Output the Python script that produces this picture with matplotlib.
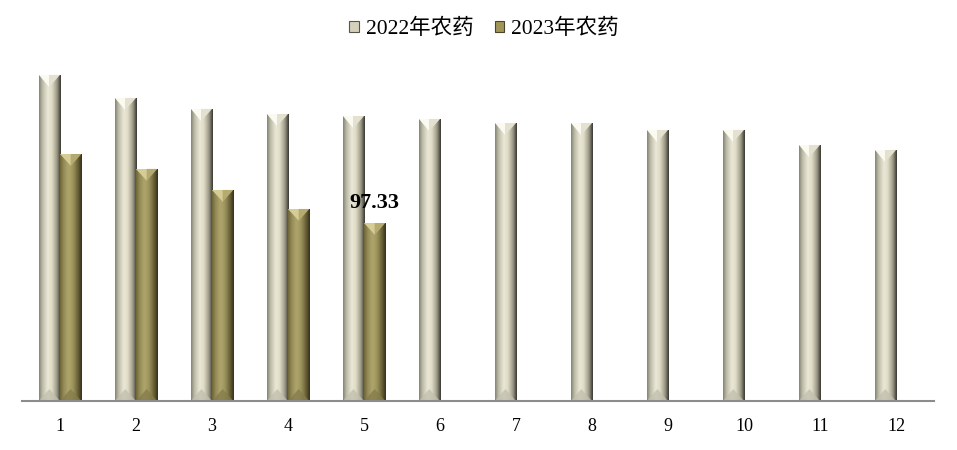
import matplotlib.pyplot as plt
import numpy as np
from matplotlib.colors import LinearSegmentedColormap
from matplotlib.patches import Polygon, Patch

plt.rcParams['font.family'] = ['Liberation Serif', 'Noto Sans CJK SC']

months = ['1', '2', '3', '4', '5', '6', '7', '8', '9', '10', '11', '12']
pest_2022 = [178.3, 165.7, 159.7, 156.9, 155.8, 154.2, 152.0, 152.0, 148.2, 148.2, 140.0, 137.2]
pest_2023 = [135.0, 126.9, 115.4, 105.0, 97.33]
series_names = ['2022年农药', '2023年农药']

# horizontal shading of the bevelled bars
grey_cmap = LinearSegmentedColormap.from_list('g', [
    (0.0, '#858372'), (0.15, '#bcbaa8'), (0.4, '#ece8d7'), (0.58, '#e0dcc7'),
    (0.82, '#9e9c88'), (1.0, '#383832')])
olive_cmap = LinearSegmentedColormap.from_list('o', [
    (0.0, '#6e6638'), (0.15, '#918855'), (0.38, '#b0a66c'), (0.58, '#9f965e'),
    (0.82, '#6a6238'), (1.0, '#34301a')])
styles = [
    dict(cmap=grey_cmap, top_l='#fbfaf1', top_r='#e4e1d1', bot='#c2c0ae', mid='#d4d0bc', edge='#55554a'),
    dict(cmap=olive_cmap, top_l='#d6cd96', top_r='#b5ab70', bot='#857c4c', mid='#a09658', edge='#4a4526'),
]

fig = plt.figure(figsize=(9.57, 4.5), dpi=100)
ax = fig.add_axes([22 / 957, 49 / 450, 912 / 957, 347.5 / 450])

x = np.arange(len(months))
w = 0.28
ax.set_xlim(-0.5, len(months) - 0.5)
ax.set_ylim(0, 190)

inv = ax.transData.inverted()
bevel = inv.transform((0, 12))[1] - inv.transform((0, 0))[1]
grad = np.linspace(0, 1, 64).reshape(1, -1)

groups = [(x - w / 2, pest_2022), (x[:len(pest_2023)] + w / 2, pest_2023)]
bar_sets = []
for (xs, vals), st in zip(groups, styles):
    bars = ax.bar(xs, vals, width=w, color='none', edgecolor='none', zorder=2)
    bar_sets.append(bars)
    for r in bars:
        x0, x1, h = r.get_x(), r.get_x() + r.get_width(), r.get_height()
        xc = (x0 + x1) / 2
        im = ax.imshow(grad, cmap=st['cmap'], extent=(x0, x1, 0, h),
                       aspect='auto', zorder=2, interpolation='bicubic')
        im.set_clip_path(r)
        ax.add_patch(Polygon([(x0, h), (xc, h), (xc, h - bevel)], closed=True,
                             facecolor=st['top_l'], edgecolor='none', zorder=3))
        ax.add_patch(Polygon([(xc, h), (x1, h), (xc, h - bevel)], closed=True,
                             facecolor=st['top_r'], edgecolor='none', zorder=3))
        ax.add_patch(Polygon([(x0, 0), (x1, 0), (xc, bevel)], closed=True,
                             facecolor=st['bot'], edgecolor='none', alpha=0.8, zorder=3))

ax.set_xlim(-0.5, len(months) - 0.5)
ax.set_ylim(0, 190)

last = bar_sets[1][-1]
ax.annotate(f'{pest_2023[-1]:.2f}', (last.get_x() + last.get_width() / 2, last.get_height()),
            xytext=(0, 7), textcoords='offset points', ha='center', va='bottom',
            fontsize=16, fontweight='bold')

for s in ['top', 'right', 'left']:
    ax.spines[s].set_visible(False)
ax.spines['bottom'].set_color('#8c8c8c')
ax.spines['bottom'].set_linewidth(1.5)
ax.spines['bottom'].set_zorder(4)
ax.set_yticks([])
ax.set_xticks(x)
ax.set_xticklabels(months, fontsize=13)
ax.tick_params(axis='x', length=0, pad=12.5)

handles = [Patch(facecolor=st['mid'], edgecolor=st['edge'], linewidth=0.8) for st in styles]
fig.legend(handles, series_names, loc='center', bbox_to_anchor=(484 / 957, 1 - 29 / 450),
           ncol=2, frameon=False, fontsize=15.5, handlelength=0.45, handleheight=0.45,
           handletextpad=0.3, columnspacing=1.0)

fig.savefig('out.png', dpi=100)
